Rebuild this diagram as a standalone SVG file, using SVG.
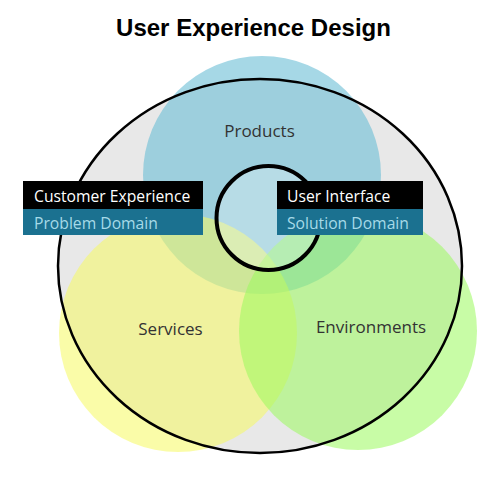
<svg xmlns="http://www.w3.org/2000/svg" width="500" height="483" viewBox="0 0 500 483">
  <style>
    .title { font-family: "Liberation Sans", Arial, sans-serif; font-weight: bold; font-size: 24px; fill: #000; }
    .lbl { font-family: "Open Sans", "Noto Sans", sans-serif; font-size: 17px; fill: #333; }
    .boxhead { font-family: "Open Sans", "Noto Sans", sans-serif; font-size: 15.7px; fill: #fff; }
    .boxsub { font-family: "Open Sans", "Noto Sans", sans-serif; font-size: 15.7px; fill: #a6dae8; }
    .dark { fill: #000; }
    .teal { fill: #1b7190; }
  </style>
  <rect width="500" height="483" fill="#fff"/>
  <text class="title" x="253.5" y="36" text-anchor="middle">User Experience Design</text>

  <g id="ux-boundary-fill">
    <ellipse cx="260" cy="266" rx="202" ry="187" fill="#e8e8e8"/>
  </g>
  <g id="products">
    <circle cx="262" cy="175" r="119" fill="#6bbed5" fill-opacity="0.6"/>
    <text class="lbl" x="259.5" y="137" text-anchor="middle">Products</text>
  </g>
  <g id="services">
    <circle cx="178" cy="333" r="119" fill="#f5f960" fill-opacity="0.55"/>
  </g>
  <g id="environments">
    <circle cx="358" cy="331" r="119" fill="#9bf95d" fill-opacity="0.55"/>
  </g>
  <g id="user-interface-circle">
    <circle cx="268.5" cy="218" r="52" fill="#fff" fill-opacity="0.27"/>
  </g>
  <g id="ux-boundary">
    <ellipse cx="260" cy="266" rx="202" ry="187" fill="none" stroke="#000" stroke-width="2.5"/>
  </g>
  <g id="ui-boundary">
    <circle cx="268.5" cy="218" r="52" fill="none" stroke="#000" stroke-width="4"/>
  </g>
  <g id="labels">
    <text class="lbl" x="170.5" y="335" text-anchor="middle">Services</text>
    <text class="lbl" x="371" y="333" text-anchor="middle">Environments</text>
  </g>
  <g id="customer-experience">
    <rect class="dark" x="23" y="181" width="180" height="28"/>
    <rect class="teal" x="23" y="209" width="180" height="26"/>
    <text class="boxhead" x="34" y="202">Customer Experience</text>
    <text class="boxsub" x="34" y="229">Problem Domain</text>
  </g>
  <g id="user-interface">
    <rect class="dark" x="277" y="181" width="146" height="28"/>
    <rect class="teal" x="277" y="209" width="146" height="26"/>
    <text class="boxhead" x="287" y="202">User Interface</text>
    <text class="boxsub" x="287" y="229">Solution Domain</text>
  </g>
  <g id="connectors"/>
</svg>
